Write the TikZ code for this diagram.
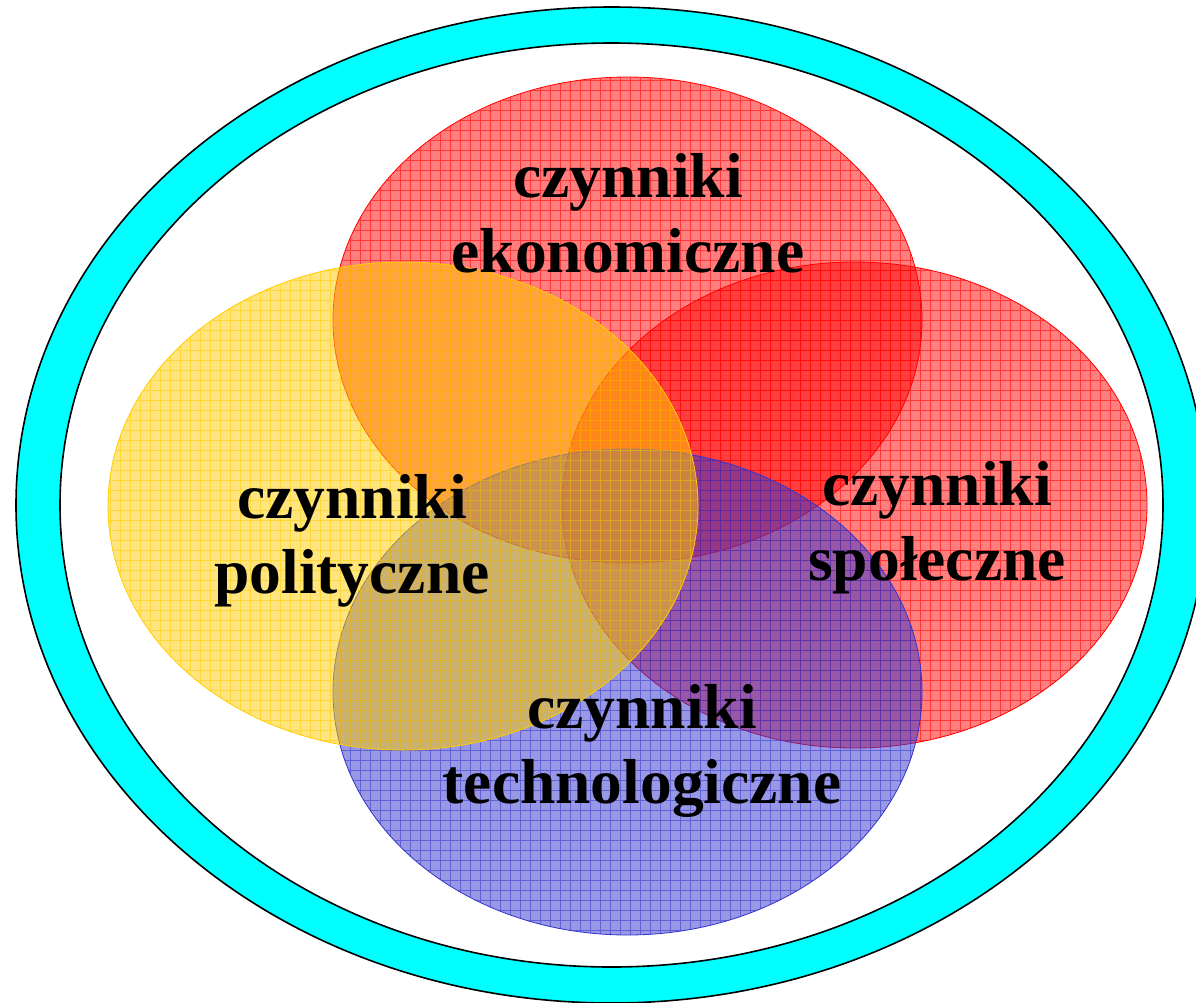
\documentclass[tikz,border=0pt]{standalone}
\usepackage{fontspec}
\setmainfont{Liberation Serif}
\definecolor{gold}{RGB}{255,204,0}
\definecolor{myblue}{RGB}{51,51,204}
\definecolor{ringcyan}{RGB}{0,255,255}
\newcommand\mkblob[5]{%
  \fill[#4, fill opacity=0.5] #1 ellipse[x radius=#2, y radius=#3];
  \begin{scope}
    \clip #1 ellipse[x radius=#2, y radius=#3];
    \draw[#5, line width=0.7pt, opacity=0.55, step=10pt] (0,0) grid (1196,1002);
  \end{scope}
  \draw[#5, line width=0.8pt] #1 ellipse[x radius=#2, y radius=#3];
}
\begin{document}
\begin{tikzpicture}[x=1pt,y=-1pt,
  lbl/.style={align=center,font=\fontsize{63.5}{75}\selectfont\bfseries,text=black,inner sep=0pt}]
\useasboundingbox (0,0) rectangle (1196,1002);
\clip (0,0) rectangle (1196,1002);
\fill[white] (0,0) rectangle (1196,1002);
% ring
\path[fill=ringcyan,even odd rule] (611.5,505) ellipse[x radius=595.5pt,y radius=498pt]
      (611.5,505) ellipse[x radius=551.5pt,y radius=462pt];
\draw[line width=1.6pt] (611.5,505) ellipse[x radius=595.5pt,y radius=498pt];
\draw[line width=1.6pt] (611.5,505) ellipse[x radius=551.5pt,y radius=462pt];
% blobs
\mkblob{(627.5,320)}{294.5pt}{243pt}{red}{red}
\mkblob{(854.5,505)}{292.5pt}{243pt}{red}{red}
\mkblob{(627.5,692)}{294.5pt}{243pt}{myblue}{myblue}
\mkblob{(403,506)}{295pt}{244pt}{gold}{gold}
% labels (anchor base = baseline of the last line)
\node[lbl,anchor=base] (eko) at (628,272) {czynniki\\ekonomiczne};
\node[lbl,anchor=base] (pol) at (352,593) {czynniki\\polityczne};
\node[lbl,anchor=base] (spo) at (937,580) {czynniki\\społeczne};
\node[lbl,anchor=base] (tech) at (642,803) {czynniki\\technologiczne};
\end{tikzpicture}
\end{document}
